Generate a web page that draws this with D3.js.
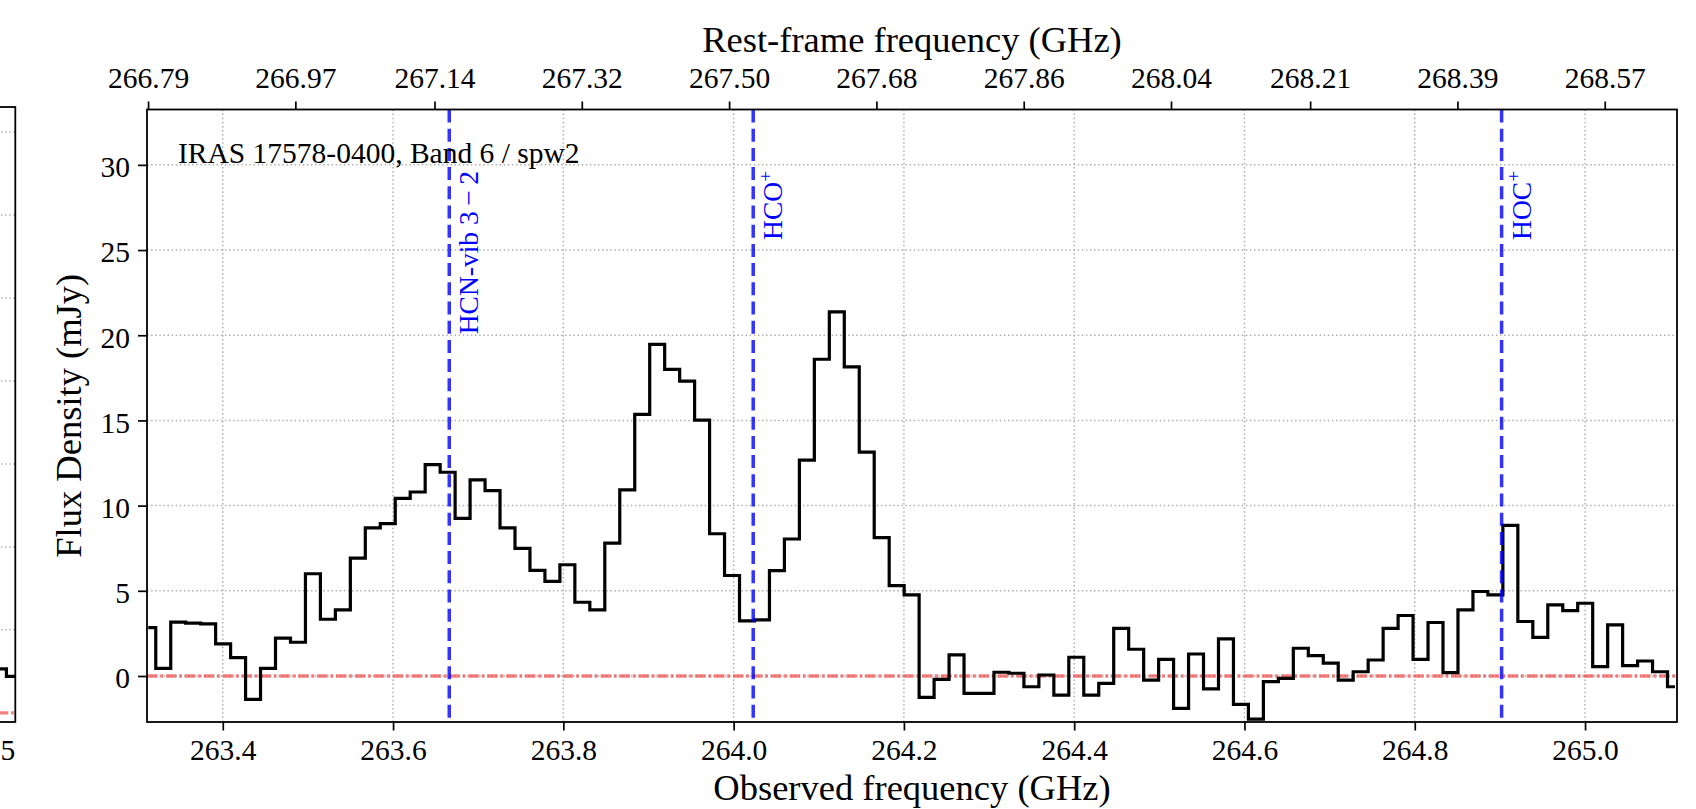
<!DOCTYPE html>
<html>
<head>
<meta charset="utf-8">
<script src="https://cdn.jsdelivr.net/npm/d3@7"></script>
<style>
  html, body { margin: 0; padding: 0; background: #fff; }
  svg { display: block; }
  svg text { font-family: "Liberation Serif", "Times New Roman", serif; }
</style>
</head>
<body>
<svg id="chart" width="1696" height="809"></svg>
<script>
// ---- Spectrum: IRAS 17578-0400, ALMA Band 6, spw2 ----
const CHAN0_GHZ = 263.3125;       // observed frequency of channel 0
const CHAN_WIDTH_GHZ = 0.01758;   // channel spacing (GHz)

// flux density per channel (mJy)
const flux = [
   2.84,  0.45,  3.16,  3.10,  3.06,  1.88,  1.08, -1.37,  0.45,  2.22,
   1.98,  6.00,  3.33,  3.88,  6.92,  8.69,  8.94, 10.43, 10.80, 12.41,
  11.96,  9.25, 11.51, 10.88,  8.69,  7.49,  6.20,  5.55,  6.53,  4.33,
   3.88,  7.80, 10.92, 15.35, 19.47, 18.00, 17.31, 15.02,  8.35,  5.90,
   3.24,  3.29,  6.18,  8.04, 12.67, 18.59, 21.37, 18.14, 13.14,  8.12,
   5.31,  4.76, -1.25, -0.20,  1.24, -1.02, -1.02,  0.22,  0.16, -0.63,
   0.06, -1.12,  1.10, -1.12, -0.43,  2.80,  1.57, -0.24,  0.98, -1.90,
   1.29, -0.76,  2.18, -1.67, -2.53, -0.33, -0.14,  1.63,  1.20,  0.75,
  -0.24,  0.25,  0.94,  2.80,  3.55,  0.98,  3.14,  0.20,  3.88,  4.96,
   4.76,  8.84,  3.20,  2.27,  4.18,  3.84,  4.27,  0.55,  3.00,  0.61,
   0.88,  0.25, -0.63
];

// axis ranges and ticks
const obsRange  = [263.311, 265.108];     // observed frequency (GHz)
const restRange = [266.7887, 268.6583];   // rest-frame frequency (GHz)
const fluxRange = [-2.70, 33.25];         // mJy
const obsTicks  = [263.4, 263.6, 263.8, 264.0, 264.2, 264.4, 264.6, 264.8, 265.0];
const restTicks = [266.79, 266.97, 267.14, 267.32, 267.50, 267.68, 267.86, 268.04, 268.21, 268.39, 268.57];
const fluxTicks = [0, 5, 10, 15, 20, 25, 30];

// identified transitions (observed frequency)
const lineNames   = ["HCN-vib 3\u2009\u2212\u20092", "HCO", "HOC"];
const lineCharges = ["", "+", "+"];
const lineFreqs   = [263.666, 264.023, 264.902];

// neighbouring spectral window (right edge of the previous panel)
const prevFreqs  = [262.519, 262.540];
const prevFlux   = [0.53, 0.44];
const prevGrid   = [1, 2, 3, 4, 5, 6, 7];
const prevRange  = [262.500, 262.540];
const prevYRange = [-0.11, 7.30];
const prevTickTail = "5";   // visible end of its last tick label

// ---- layout ----
const P = { left: 147, right: 1677, top: 109.5, bottom: 722 };
const PREV = { left: -40, right: 15.3, top: 107, bottom: 722 };
const TICK_FONT = 29.5, LABEL_FONT = 36.5, NOTE_FONT = 29.5, LINE_FONT = 27.5;
const GRID_COLOR = "#b0b0b0", GRID_DASH = "1.5,2.6";
const ZERO_COLOR = "#f03c3c", ZERO_DASH = "10.5,2.8,2.8,2.8";

const svg = d3.select("#chart");

const x = d3.scaleLinear().domain(obsRange).range([P.left, P.right]);
const xTop = d3.scaleLinear().domain(restRange).range([P.left, P.right]);
const y = d3.scaleLinear().domain(fluxRange).range([P.bottom, P.top]);

const freqs = flux.map((_, i) => CHAN0_GHZ + i * CHAN_WIDTH_GHZ);

// ---- previous panel (mostly off-canvas) ----
const px = d3.scaleLinear().domain(prevRange).range([-18.5, PREV.right]);
const py = d3.scaleLinear().domain(prevYRange).range([PREV.bottom, PREV.top]);
const gPrev = svg.append("g");
gPrev.selectAll("line.pgrid").data(prevGrid).join("line")
  .attr("x1", PREV.left).attr("x2", PREV.right)
  .attr("y1", d => py(d)).attr("y2", d => py(d))
  .attr("stroke", GRID_COLOR).attr("stroke-width", 1.5).attr("stroke-dasharray", GRID_DASH);
gPrev.append("line")
  .attr("x1", PREV.left).attr("x2", PREV.right)
  .attr("y1", py(0)).attr("y2", py(0))
  .attr("stroke", ZERO_COLOR).attr("stroke-opacity", 0.65).attr("stroke-width", 3.4)
  .attr("stroke-dasharray", ZERO_DASH);
gPrev.append("path")
  .datum(prevFreqs.map((f, i) => [px(f), py(prevFlux[i])]))
  .attr("d", d3.line().curve(d3.curveStep))
  .attr("fill", "none").attr("stroke", "#000").attr("stroke-width", 3.2);
gPrev.append("rect")
  .attr("x", PREV.left).attr("y", PREV.top)
  .attr("width", PREV.right - PREV.left).attr("height", PREV.bottom - PREV.top)
  .attr("fill", "none").attr("stroke", "#000").attr("stroke-width", 1.8);
gPrev.append("text")
  .attr("x", PREV.right).attr("y", 760)
  .attr("text-anchor", "end").attr("font-size", TICK_FONT)
  .text(prevTickTail);

// ---- main panel: grid ----
const gGrid = svg.append("g");
gGrid.selectAll("line.vg").data(obsTicks).join("line")
  .attr("x1", d => x(d)).attr("x2", d => x(d))
  .attr("y1", P.top).attr("y2", P.bottom)
  .attr("stroke", GRID_COLOR).attr("stroke-width", 1.5).attr("stroke-dasharray", GRID_DASH);
gGrid.selectAll("line.hg").data(fluxTicks).join("line")
  .attr("x1", P.left).attr("x2", P.right)
  .attr("y1", d => y(d)).attr("y2", d => y(d))
  .attr("stroke", GRID_COLOR).attr("stroke-width", 1.5).attr("stroke-dasharray", GRID_DASH);

// zero level
svg.append("line")
  .attr("x1", P.left).attr("x2", P.right)
  .attr("y1", y(0)).attr("y2", y(0))
  .attr("stroke", ZERO_COLOR).attr("stroke-opacity", 0.65).attr("stroke-width", 3.4)
  .attr("stroke-dasharray", ZERO_DASH);

// spectrum (steps centred on channels)
svg.append("path")
  .datum(freqs.map((f, i) => [x(f), y(flux[i])]))
  .attr("d", d3.line().curve(d3.curveStep))
  .attr("fill", "none").attr("stroke", "#000").attr("stroke-width", 3.2)
  .attr("stroke-linejoin", "miter");

// transition markers
svg.selectAll("line.mark").data(lineFreqs).join("line")
  .attr("x1", d => x(d)).attr("x2", d => x(d))
  .attr("y1", P.top).attr("y2", P.bottom)
  .attr("stroke", "#0000ff").attr("stroke-opacity", 0.8).attr("stroke-width", 3.5)
  .attr("stroke-dasharray", "13,6.2");

const labels = svg.selectAll("text.mark").data(lineFreqs).join("text")
  .attr("transform", d => `translate(${x(d) + 29},171) rotate(-90)`)
  .attr("text-anchor", "end")
  .attr("font-size", LINE_FONT)
  .attr("fill", "#0000ff");
labels.append("tspan").text((d, i) => lineNames[i]);
labels.each(function (d, i) {
  if (lineCharges[i]) {
    d3.select(this).append("tspan")
      .attr("font-size", LINE_FONT * 0.7)
      .attr("dy", "-0.55em")
      .text(lineCharges[i]);
  }
});

// ---- axes ----
const axB = svg.append("g").attr("transform", `translate(0,${P.bottom})`)
  .call(d3.axisBottom(x).tickValues(obsTicks).tickFormat(d3.format(".1f"))
        .tickSize(8.5).tickSizeOuter(0).tickPadding(8.6));
const axT = svg.append("g").attr("transform", `translate(0,${P.top})`)
  .call(d3.axisTop(xTop).tickValues(restTicks).tickFormat(d3.format(".2f"))
        .tickSize(8).tickSizeOuter(0).tickPadding(13.2));
const axL = svg.append("g").attr("transform", `translate(${P.left},0)`)
  .call(d3.axisLeft(y).tickValues(fluxTicks).tickFormat(d3.format("d"))
        .tickSize(9).tickSizeOuter(0).tickPadding(8));
[axB, axT, axL].forEach(a => {
  a.select(".domain").remove();
  a.attr("font-family", null).attr("font-size", null);
  a.selectAll("line").attr("stroke", "#000").attr("stroke-width", 1.7);
  a.selectAll("text").attr("font-size", TICK_FONT).attr("fill", "#000");
});
axL.selectAll("text").attr("dy", "0.4em");

// frame
svg.append("rect")
  .attr("x", P.left).attr("y", P.top)
  .attr("width", P.right - P.left).attr("height", P.bottom - P.top)
  .attr("fill", "none").attr("stroke", "#000").attr("stroke-width", 1.8);

// ---- text ----
svg.append("text")
  .attr("x", 178).attr("y", 163.3)
  .attr("font-size", NOTE_FONT)
  .text("IRAS 17578-0400, Band 6 / spw2");

svg.append("text")
  .attr("x", (P.left + P.right) / 2).attr("y", 800)
  .attr("text-anchor", "middle").attr("font-size", LABEL_FONT)
  .text("Observed frequency (GHz)");

svg.append("text")
  .attr("x", (P.left + P.right) / 2).attr("y", 51.5)
  .attr("text-anchor", "middle").attr("font-size", LABEL_FONT)
  .text("Rest-frame frequency (GHz)");

svg.append("text")
  .attr("transform", `translate(81,${(P.top + P.bottom) / 2}) rotate(-90)`)
  .attr("text-anchor", "middle").attr("font-size", LABEL_FONT)
  .text("Flux Density (mJy)");
</script>
</body>
</html>
